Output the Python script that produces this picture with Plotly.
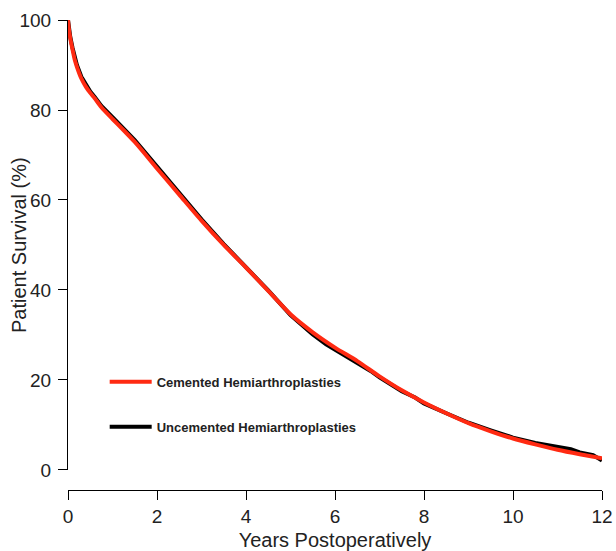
import plotly.graph_objects as go

# Years postoperatively
years = [0, 0.02, 0.05, 0.1, 0.15, 0.2, 0.3, 0.4, 0.5, 0.6, 0.75, 1.0, 1.25, 1.5,
         1.75, 2.0, 2.5, 3.0, 3.5, 4.0, 4.5, 5.0, 5.5, 6.0, 6.5, 7.0, 7.5, 8.0,
         8.5, 9.0, 9.5, 10.0, 10.5, 11.0, 11.5, 12.0]

# Patient survival (%) - cemented hemiarthroplasties
cemented = [100, 98.0, 96.0, 93.5, 91.2, 89.6, 87.0, 85.2, 83.8, 82.6, 80.6, 78.0,
            75.5, 72.9, 70.0, 67.0, 61.2, 55.4, 50.0, 45.0, 39.8, 34.6, 30.6, 27.2,
            24.2, 20.8, 17.7, 15.0, 12.6, 10.4, 8.6, 7.0, 5.7, 4.5, 3.5, 2.6]

# Patient survival (%) - uncemented hemiarthroplasties
years_unc = [0, 0.02, 0.05, 0.1, 0.15, 0.2, 0.3, 0.4, 0.5, 0.6, 0.75, 1.0, 1.25, 1.5,
             1.75, 2.0, 2.5, 3.0, 3.5, 4.0, 4.5, 5.0, 5.5, 5.8, 6.0, 6.3, 6.5, 6.8,
             7.0, 7.5, 7.8, 8.0, 8.5, 9.0, 9.5, 10.0, 10.5, 11.0, 11.3, 11.5, 11.8, 12.0]
uncemented = [100, 98.2, 96.3, 93.9, 91.6, 90.0, 87.4, 85.6, 84.1, 82.9, 80.9, 78.4,
              75.9, 73.3, 70.4, 67.4, 61.6, 55.7, 50.2, 45.1, 39.9, 34.4, 30.1, 27.9,
              26.7, 25.1, 23.8, 22.0, 20.6, 17.5, 16.1, 14.8, 12.6, 10.5, 8.8, 7.2,
              6.0, 5.0, 4.6, 3.9, 3.3, 2.1]

y_title = "Patient Survival (%)"
x_title = "Years Postoperatively"

fig = go.Figure()
fig.add_trace(go.Scatter(
    x=years_unc, y=uncemented, mode="lines", name="Uncemented Hemiarthroplasties",
    line=dict(color="black", width=4), legendgroup="b", legendrank=2))
fig.add_trace(go.Scatter(
    x=years, y=cemented, mode="lines", name="Cemented Hemiarthroplasties",
    line=dict(color="#ff2a12", width=4, shape="spline", smoothing=0.6),
    legendgroup="a", legendrank=1))

tickfont = dict(family="Liberation Sans, Arial, sans-serif", size=19, color="#222")
titlefont = dict(family="Liberation Sans, Arial, sans-serif", size=20, color="#222")

fig.update_layout(
    width=616, height=551,
    margin=dict(l=68, r=14, t=20, b=61),
    plot_bgcolor="white", paper_bgcolor="white",
    showlegend=True,
    legend=dict(
        x=0.0687, y=0.262, xanchor="left", yanchor="top",
        font=dict(family="Liberation Sans, Arial, sans-serif", size=13, color="#222",
                  weight="bold"),
        bgcolor="rgba(0,0,0,0)", tracegroupgap=25, itemwidth=42,
    ),
    xaxis=dict(
        range=[0, 12], domain=[0, 1], anchor="free", position=0, automargin=False,
        tickvals=[0, 2, 4, 6, 8, 10, 12], ticks="outside", ticklen=9,
        tickwidth=1.2, tickcolor="black", showline=True, linecolor="black",
        linewidth=1.2, showgrid=False, zeroline=False, tickfont=tickfont,
        title=dict(text=x_title, font=titlefont),
    ),
    yaxis=dict(
        range=[0, 100], domain=[0.0426, 1], automargin=False,
        tickvals=[0, 20, 40, 60, 80, 100], ticks="outside", ticklen=9,
        ticklabelstandoff=3,
        tickwidth=1.2, tickcolor="black", showline=True, linecolor="black",
        linewidth=1.2, showgrid=False, zeroline=False, tickfont=tickfont,
    ),
    annotations=[dict(
        text=y_title, font=titlefont, textangle=-90, showarrow=False,
        xref="paper", yref="paper", x=0, y=(0.0426 + 1) / 2,
        xanchor="center", yanchor="middle", xshift=-49,
    )],
)

fig.write_html("out.html", config={"displayModeBar": False},
               post_script="document.body.style.margin='0';document.body.style.padding='0';")
